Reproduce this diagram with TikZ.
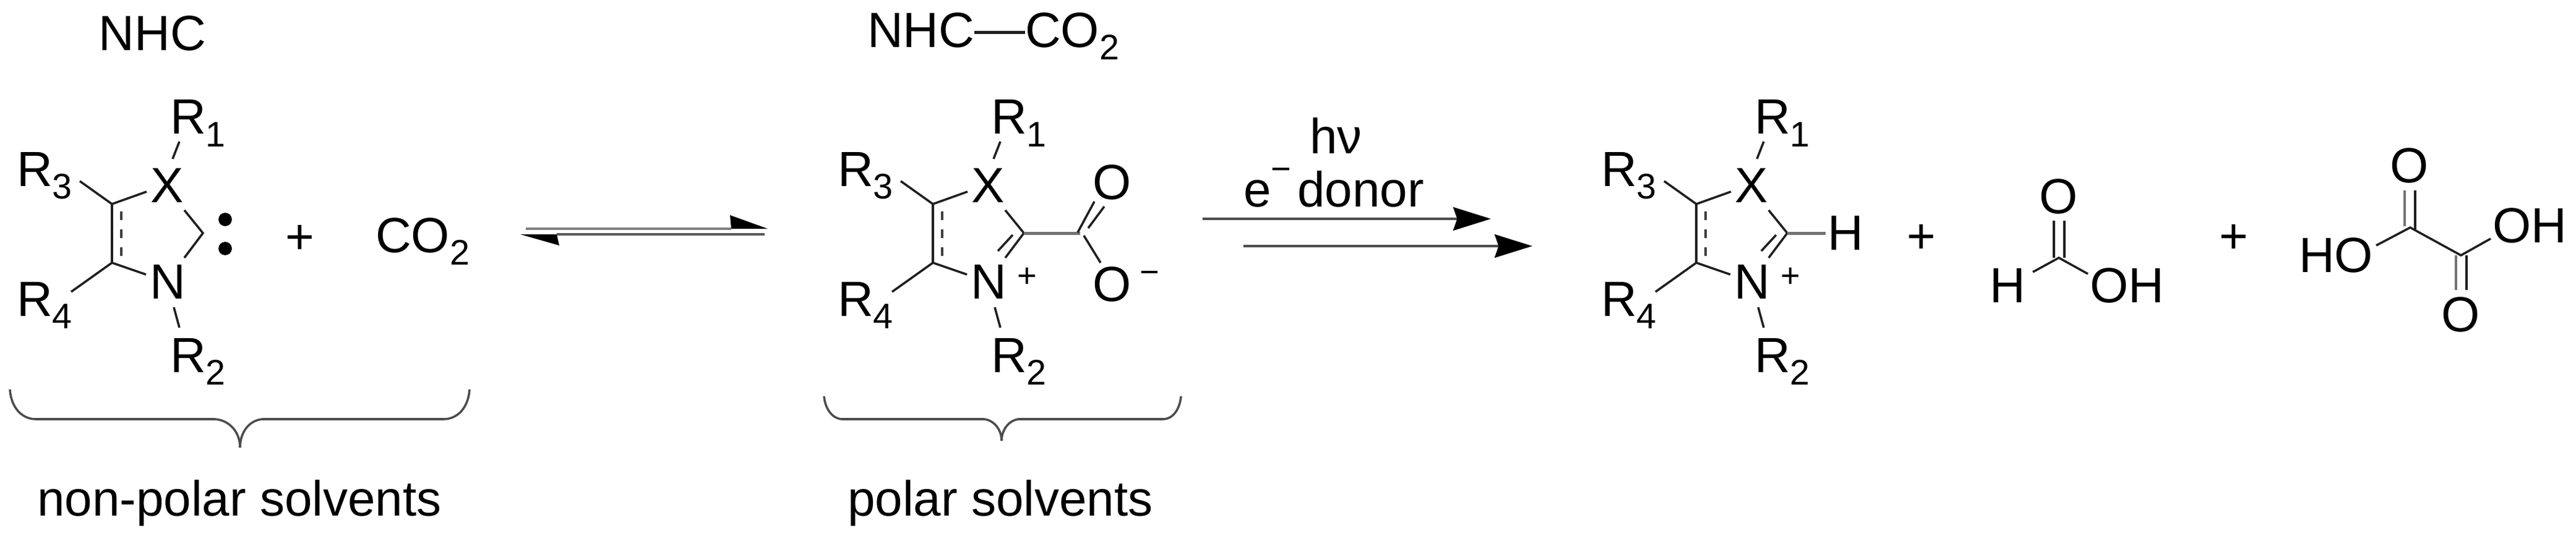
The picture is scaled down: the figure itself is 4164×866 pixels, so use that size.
\documentclass[tikz,border=0pt]{standalone}
\usepackage{fontspec}
\setmainfont{Liberation Sans}
\usetikzlibrary{arrows.meta}
\newcommand\sbs[1]{\raisebox{-5pt}{\fontsize{13.8}{14}\selectfont #1}}
\newcommand\smallsize{\fontsize{13}{14}\selectfont}
\tikzset{
  x=0.24pt,y=-0.24pt,
  txt/.style={inner sep=0pt,outer sep=0pt,font=\fontsize{19.2}{20}\selectfont,text=black},
  lbl/.style={txt,anchor=base west},
  atom/.style={txt,anchor=center},
  charge/.style={inner sep=0pt,outer sep=0pt,font=\smallsize,anchor=center},
  bond/.style={draw=black!88,line width=0.85pt},
  dbl/.style={draw=black!55,line width=1.2pt},
  dashbond/.style={draw=black!75,line width=1.1pt,dash pattern=on 3.4pt off 3.5pt},
  brace/.style={draw=black!70,line width=0.85pt},
  rxn/.style={draw=black!70,line width=1.1pt},
  tipfill/.style={fill=black,draw=none},
  rarrow/.style={rxn,-{Stealth[length=14.6pt,width=9pt,inset=1.5pt,black]}},
}
\newcommand\ringatoms{%
  \node[lbl] (R1) at (275,216.6) {R\sbs{1}};
  \node[lbl] (R3) at (27,301) {R\sbs{3}};
  \node[lbl] (R4) at (27,511) {R\sbs{4}};
  \node[lbl] (R2) at (275,602) {R\sbs{2}};
  \node[atom] (X) at (270,300) {X};
  \node[atom] (N) at (271,456) {N};
  \coordinate (C5) at (181,330);
  \coordinate (C4) at (181,425);
  \coordinate (C2) at (328,377);
  \coordinate (xa) at (290,229); \coordinate (xb) at (279,257);
  \coordinate (ra) at (129,293);
  \coordinate (xc) at (237,310);
  \coordinate (d1) at (196,342); \coordinate (d2) at (196,415);
  \coordinate (nc) at (236,444);
  \coordinate (rb) at (115,472);
  \coordinate (xd) at (298,340);
  \coordinate (nd) at (298,417);
  \coordinate (ne) at (281,497); \coordinate (nf) at (290,530);
  \draw[bond] (xa) -- (xb);
  \draw[bond] (ra) -- (C5) -- (xc);
  \draw[bond] (C5) -- (C4);
  \draw[bond] (rb) -- (C4) -- (nc);
  \draw[dashbond] (d1) -- (d2);
  \draw[bond] (xd) -- (C2) -- (nd);
  \draw[bond] (ne) -- (nf);
}
\newcommand\ringcation{%
  \node[charge] (Np) at (333,449) {+};
  \coordinate (ia) at (310,380); \coordinate (ib) at (286,406);
  \draw[bond] (ia) -- (ib);
}
\begin{document}
\begin{tikzpicture}
\useasboundingbox (0,0) rectangle (4164,866);
% NHC
\node[atom] (nhc) at (246.6,54) {NHC};
\begin{scope}[name prefix=a-]
  \ringatoms
  \node[circle,fill=black,inner sep=0pt,minimum size=5.2pt] (dot1) at (364,355) {};
  \node[circle,fill=black,inner sep=0pt,minimum size=5.2pt] (dot2) at (364,402) {};
\end{scope}
\node[atom] (plusa) at (485,387) {+};
\node[lbl] (co2) at (607,408) {CO\sbs{2}};
% brace 1
\coordinate (ba) at (16,630); \coordinate (bb) at (58,678); \coordinate (bc) at (348,678);
\coordinate (bt) at (388,724); \coordinate (bd) at (424,678); \coordinate (be) at (717,678); \coordinate (bf) at (759,630);
\draw[brace] (ba) .. controls (18,660) and (36,678) .. (bb) -- (bc) .. controls (372,680) and (388,700) .. (bt)
  .. controls (388,700) and (402,680) .. (bd) -- (be) .. controls (739,678) and (757,660) .. (bf);
\node[lbl,anchor=base] (nonpolar) at (387,834) {non-polar solvents};
% equilibrium
\coordinate (e1a) at (850,370); \coordinate (e1b) at (1182,370); \coordinate (e1t) at (1241,370); \coordinate (e1u) at (1180,348);
\coordinate (e2a) at (1236,379); \coordinate (e2b) at (900,379); \coordinate (e2t) at (841,379); \coordinate (e2u) at (904,397);
\draw[rxn,draw=black!50] (e1a) -- (e1b);
\draw[tipfill] (e1t) -- (e1u) -- (e1b) -- cycle;
\draw[rxn,draw=black!65] (e2a) -- (e2b);
\draw[tipfill] (e2t) -- (e2u) -- (e2b) -- cycle;
% NHC-CO2
\node[lbl] (nhc2) at (1402,76) {NHC};
\node[lbl] (co22) at (1657,76) {CO\sbs{2}};
\draw[bond,line width=1pt] (nhc2.east |- 0,52.5) -- (co22.west |- 0,52.5);
\begin{scope}[shift={(1327,0)},name prefix=b-]
  \ringatoms
  \ringcation
  \coordinate (C) at (419,377);
  \node[atom] (O1) at (471,294.5) {O};
  \node[atom] (O2) at (471,460) {O};
  \node[charge] (minus) at (531,449) {−};
  \coordinate (oa) at (442,326); \coordinate (ob) at (415,376);
  \coordinate (oc) at (458,334); \coordinate (od) at (432,369);
  \coordinate (oe) at (425,381); \coordinate (of) at (452,425);
  \draw[dbl] (C2) -- (C);
  \draw[bond] (oa) -- (ob);
  \draw[bond] (oc) -- (od);
  \draw[bond] (oe) -- (of);
\end{scope}
% brace 2
\coordinate (ca) at (1332,641); \coordinate (cb) at (1362,678); \coordinate (cc) at (1591,678);
\coordinate (ct) at (1619,713); \coordinate (cd) at (1646,678); \coordinate (ce) at (1880,678); \coordinate (cf) at (1909,641);
\draw[brace] (ca) .. controls (1334,662) and (1346,678) .. (cb) -- (cc) .. controls (1607,680) and (1619,695) .. (ct)
  .. controls (1619,695) and (1631,680) .. (cd) -- (ce) .. controls (1896,678) and (1907,662) .. (cf);
\node[lbl,anchor=base] (polar) at (1617,834) {polar solvents};
% reaction arrows
\node[lbl] (hv) at (2117,248) {hν};
\node[lbl] (don) at (2010,334) {e\raisebox{10pt}{\fontsize{13.5}{14}\selectfont −}\hspace{2.4pt}donor};
\coordinate (a1s) at (1943.5,354); \coordinate (a1e) at (2410,354);
\coordinate (a2s) at (2010,398); \coordinate (a2e) at (2477,398);
\draw[rarrow] (a1s) -- (a1e);
\draw[rarrow] (a2s) -- (a2e);
% product cation
\begin{scope}[shift={(2561,0)},name prefix=c-]
  \ringatoms
  \ringcation
  \node[atom] (H) at (422,377) {H};
  \coordinate (he) at (390,377);
  \draw[dbl] (C2) -- (he);
\end{scope}
\node[atom] (plusb) at (3106,386) {+};
% formic acid
\node[atom] (fO) at (3328,318) {O};
\node[atom] (fH) at (3245,462) {H};
\node[atom] (fOH) at (3438,462) {OH};
\coordinate (fC) at (3328,417);
\coordinate (fa) at (3320,357); \coordinate (fb) at (3320,417);
\coordinate (fc) at (3337,357); \coordinate (fd) at (3337,417);
\coordinate (fe) at (3286,440); \coordinate (ff) at (3375,443);
\draw[bond] (fa) -- (fb);
\draw[bond] (fc) -- (fd);
\draw[bond] (fe) -- (fC) -- (ff);
\node[atom] (plusc) at (3611,386) {+};
% oxalic acid
\node[atom] (xO1) at (3895,268) {O};
\node[atom] (xO2) at (3978,509) {O};
\node[atom] (xHO) at (3776,413) {HO};
\node[atom] (xOH) at (4089,365) {OH};
\coordinate (xC1) at (3896,368); \coordinate (xC2) at (3978,413);
\coordinate (g1) at (3887,308); \coordinate (g2) at (3887,366);
\coordinate (g3) at (3904,308); \coordinate (g4) at (3904,372);
\coordinate (g5) at (3970,413); \coordinate (g6) at (3970,469);
\coordinate (g7) at (3987,413); \coordinate (g8) at (3987,469);
\coordinate (g9) at (3841,397); \coordinate (g10) at (4026,386);
\draw[dbl,line width=1pt] (g1) -- (g2);
\draw[bond] (g3) -- (g4);
\draw[dbl,line width=1pt] (g5) -- (g6);
\draw[bond] (g7) -- (g8);
\draw[bond] (g9) -- (xC1) -- (xC2) -- (g10);
\end{tikzpicture}
\end{document}
